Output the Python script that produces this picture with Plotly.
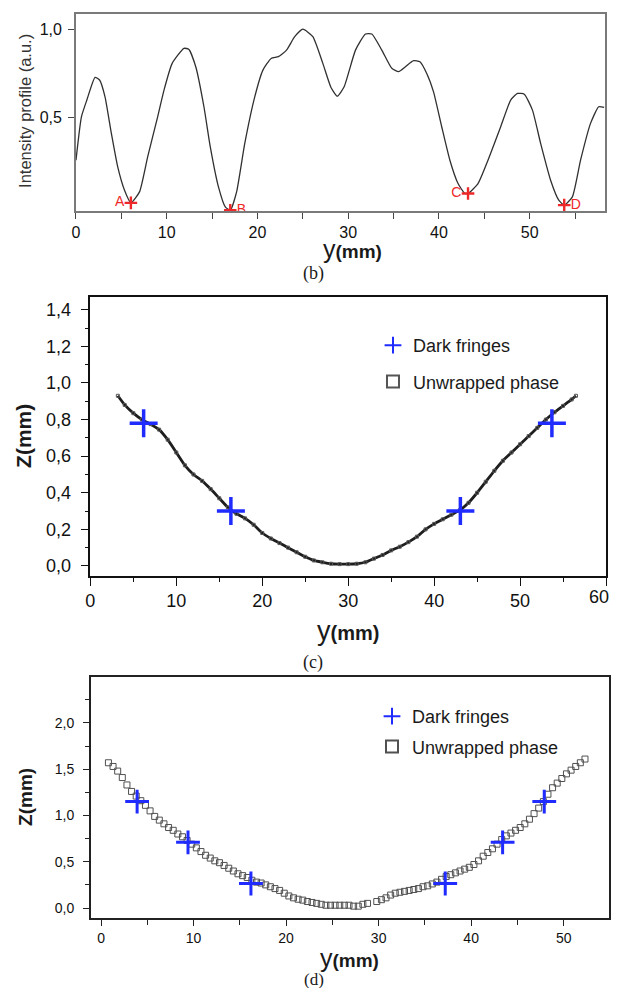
import plotly.graph_objects as go

# ---------------- data ----------------
# (b) intensity profile
b_y_mm = [0.0, 0.6, 1.2, 2.1, 2.6, 3.2, 3.9, 4.6, 5.35, 6.05, 7.0, 7.9, 9.0, 9.7, 10.6, 11.9, 12.45, 13.2,
          14.1, 14.8, 15.7, 16.45, 17.0, 17.7, 18.6, 19.7, 20.6, 21.5, 22.3, 23.2, 24.1, 25.0, 26.1, 27.2,
          28.1, 28.8, 29.55, 30.8, 31.9, 32.6, 33.7, 34.8, 35.55, 36.3, 37.2, 37.9, 38.65, 39.4, 40.3,
          41.2, 42.1, 42.8, 43.2, 44.3, 45.4, 46.8, 47.9, 48.65, 49.4, 50.3, 51.2, 52.3, 53.2, 53.8, 54.7,
          55.6, 56.7, 57.6, 58.2]
b_intensity = [0.26, 0.505, 0.60, 0.728, 0.713, 0.618, 0.411, 0.222, 0.09, 0.019, 0.081, 0.279, 0.505,
               0.656, 0.807, 0.892, 0.886, 0.788, 0.562, 0.335, 0.109, -0.004, -0.023, 0.081, 0.355, 0.618,
               0.769, 0.835, 0.845, 0.882, 0.958, 1.0, 0.958, 0.807, 0.671, 0.622, 0.675, 0.882, 0.973,
               0.973, 0.882, 0.779, 0.76, 0.788, 0.822, 0.816, 0.75, 0.646, 0.449, 0.26, 0.128, 0.075,
               0.072, 0.128, 0.26, 0.449, 0.60, 0.637, 0.633, 0.543, 0.355, 0.147, 0.034, 0.006, 0.053,
               0.26, 0.468, 0.562, 0.558]
b_min_labels = ["A", "B", "C", "D"]
b_min_y_mm = [6.05, 17.0, 43.2, 53.8]
b_min_intensity = [0.019, -0.023, 0.072, 0.006]

# (c) unwrapped phase and dark fringes
c_y_mm = [3.2, 4.0, 5.0, 6.0, 7.0, 8.0, 9.0, 10.0, 11.0, 12.0, 13.0, 14.0, 15.0, 16.0, 17.0, 18.0, 19.0,
          20.0, 21.0, 22.0, 23.0, 24.0, 25.0, 26.0, 27.0, 28.0, 29.0, 30.0, 31.0, 32.0, 33.0, 34.0, 35.0,
          36.0, 37.0, 38.0, 39.0, 40.0, 41.0, 42.0, 43.0, 44.0, 45.0, 46.0, 47.0, 48.0, 49.0, 50.0, 51.0,
          52.0, 53.0, 54.0, 55.0, 56.0, 56.5]
c_z_mm = [0.93, 0.88, 0.835, 0.80, 0.775, 0.745, 0.69, 0.62, 0.55, 0.50, 0.465, 0.42, 0.37, 0.32, 0.285,
          0.26, 0.225, 0.18, 0.15, 0.125, 0.10, 0.075, 0.05, 0.03, 0.02, 0.012, 0.01, 0.01, 0.012, 0.02,
          0.04, 0.06, 0.085, 0.105, 0.13, 0.16, 0.20, 0.23, 0.255, 0.28, 0.305, 0.345, 0.40, 0.46, 0.52,
          0.575, 0.62, 0.665, 0.71, 0.755, 0.80, 0.84, 0.875, 0.91, 0.93]
c_fringe_y_mm = [6.2, 16.35, 43.05, 53.7]
c_fringe_z_mm = [0.78, 0.30, 0.30, 0.78]
c_x_ticks = [0, 10, 20, 30, 40, 50, 60]

# (d) unwrapped phase and dark fringes
d_y_mm = [0.8, 1.3, 1.8, 2.3, 2.8, 3.3, 3.8, 4.3, 4.8, 5.3, 5.8, 6.3, 6.8, 7.3, 7.8, 8.3, 8.8, 9.3, 9.8,
          10.3, 10.8, 11.3, 11.8, 12.3, 12.8, 13.3, 13.8, 14.3, 14.8, 15.3, 15.8, 16.3, 16.8, 17.3, 17.8,
          18.3, 18.8, 19.3, 19.8, 20.3, 20.8, 21.3, 21.8, 22.3, 22.8, 23.3, 23.8, 24.3, 24.8, 25.3, 25.8,
          26.3, 26.8, 27.3, 27.8, 28.3, 28.8,
          29.8, 30.3, 30.8, 31.3, 31.8, 32.3, 32.8, 33.3, 33.8, 34.3, 34.8, 35.3, 35.8, 36.3, 36.8, 37.3,
          37.8, 38.3, 38.8, 39.3, 39.8, 40.3, 40.8, 41.3, 41.8, 42.3, 42.8, 43.3, 43.8, 44.3, 44.8, 45.3,
          45.8, 46.3, 46.8, 47.3, 47.8, 48.3, 48.8, 49.3, 49.8, 50.3, 50.8, 51.3, 51.8, 52.3]
d_z_mm = [1.57, 1.53, 1.48, 1.41, 1.33, 1.26, 1.21, 1.16, 1.11, 1.05, 0.99, 0.95, 0.91, 0.87, 0.84, 0.80,
          0.77, 0.73, 0.69, 0.65, 0.61, 0.57, 0.54, 0.51, 0.49, 0.46, 0.43, 0.40, 0.37, 0.35, 0.33, 0.30,
          0.28, 0.27, 0.25, 0.23, 0.21, 0.19, 0.16, 0.13, 0.11, 0.095, 0.085, 0.07, 0.06, 0.05, 0.04, 0.03,
          0.03, 0.03, 0.03, 0.03, 0.03, 0.02, 0.02, 0.04, 0.05,
          0.07, 0.09, 0.11, 0.14, 0.16, 0.17, 0.18, 0.19, 0.20, 0.21, 0.23, 0.24, 0.26, 0.28, 0.31, 0.34,
          0.36, 0.38, 0.40, 0.42, 0.44, 0.47, 0.51, 0.56, 0.60, 0.64, 0.69, 0.74, 0.78, 0.81, 0.84, 0.87,
          0.91, 0.96, 1.02, 1.08, 1.15, 1.23, 1.30, 1.35, 1.40, 1.45, 1.49, 1.53, 1.57, 1.61]
d_fringe_y_mm = [3.9, 9.4, 16.2, 37.2, 43.4, 47.9]
d_fringe_z_mm = [1.15, 0.71, 0.265, 0.265, 0.71, 1.15]

# ---------------- style ----------------
PAGE_W, PAGE_H = 620, 996
OFF = 8                      # default page margin around the plot div
W, H = PAGE_W - 2 * OFF, PAGE_H - 2 * OFF
SANS = "Liberation Sans, Arial, sans-serif"
NARROW = "Liberation Sans Narrow, Arial Narrow, Liberation Sans, sans-serif"
SERIF = "Liberation Serif, Times New Roman, serif"
RED = "#ee2828"
BLUE = "#1f2bff"


def fx(p):
    return (p - OFF) / W


def fy(p):
    return 1 - (p - OFF) / H


fig = go.Figure()

# (b)
fig.add_trace(go.Scatter(x=b_y_mm, y=b_intensity, mode="lines", xaxis="x", yaxis="y",
                         line=dict(color="#303030", width=1.3, shape="spline", smoothing=0.5),
                         showlegend=False, hoverinfo="skip"))
fig.add_trace(go.Scatter(x=b_min_y_mm, y=b_min_intensity, mode="markers+text", xaxis="x", yaxis="y",
                         text=b_min_labels,
                         textposition=["middle left", "middle right", "middle left", "middle right"],
                         textfont=dict(family=SANS, size=14, color=RED),
                         marker=dict(symbol="cross-thin", size=9, line=dict(color=RED, width=2.4)),
                         showlegend=False))

# (c)
fig.add_trace(go.Scatter(x=c_y_mm, y=c_z_mm, mode="lines", xaxis="x2", yaxis="y2",
                         line=dict(color="#1e1e1e", width=2.8, shape="spline", smoothing=0.6),
                         showlegend=False, hoverinfo="skip"))
fig.add_trace(go.Scatter(x=c_y_mm, y=c_z_mm, mode="markers", xaxis="x2", yaxis="y2",
                         name="Unwrapped phase", legend="legend", legendgroup="c2", legendrank=2,
                         marker=dict(symbol="square-open", size=3, color="#555555",
                                     line=dict(width=1, color="#555555"))))
fig.add_trace(go.Scatter(x=c_fringe_y_mm, y=c_fringe_z_mm, mode="markers", xaxis="x2", yaxis="y2",
                         name="Dark fringes", legend="legend", legendgroup="c1", legendrank=1,
                         marker=dict(symbol="cross-thin", size=20, color=BLUE,
                                     line=dict(width=3.5, color=BLUE))))

# (d)
fig.add_trace(go.Scatter(x=d_y_mm, y=d_z_mm, mode="markers", xaxis="x3", yaxis="y3",
                         name="Unwrapped phase", legend="legend2", legendgroup="d2", legendrank=2,
                         marker=dict(symbol="square-open", size=6, color="#505050",
                                     line=dict(width=1, color="#505050"))))
fig.add_trace(go.Scatter(x=d_fringe_y_mm, y=d_fringe_z_mm, mode="markers", xaxis="x3", yaxis="y3",
                         name="Dark fringes", legend="legend2", legendgroup="d1", legendrank=1,
                         marker=dict(symbol="cross-thin", size=17, color=BLUE,
                                     line=dict(width=3, color=BLUE))))

common = dict(showgrid=False, zeroline=False, showline=True, mirror=True, ticks="outside")

fig.update_layout(
    width=W, height=H, margin=dict(l=0, r=0, t=0, b=0),
    paper_bgcolor="white", plot_bgcolor="white",
    separators=", ",
    font=dict(family=SANS, color="#1a1a1a"),
    # (b)
    xaxis=dict(**common, domain=[fx(71.5), fx(605)], anchor="y", range=[0, 58.3],
               tick0=0, dtick=10, ticklen=6, tickwidth=1.2, tickcolor="#444",
               linecolor="#7a7a7a", linewidth=1.6,
               minor=dict(dtick=5, ticks="outside", ticklen=6, tickwidth=1.2, tickcolor="#444"),
               tickfont=dict(size=16, color="#111")),
    yaxis=dict(**common, domain=[fy(211), fy(14)], anchor="x", range=[-0.027, 1.086],
               tickvals=[0.5, 1.0], tickformat=".1f", ticklen=6, tickwidth=1.2, tickcolor="#444",
               linecolor="#7a7a7a", linewidth=1.6, tickfont=dict(size=16, color="#111"),
               ticklabelstandoff=3),
    # (c)  (the last label, "60", is written below as text so it stays inside the page)
    xaxis2=dict(**common, domain=[fx(86), fx(606)], anchor="y2", range=[0, 60],
                tickvals=c_x_ticks, ticktext=[str(v) for v in c_x_ticks[:-1]] + [""],
                ticklen=8, tickwidth=1.3, tickcolor="#111",
                linecolor="#111", linewidth=1.5,
                minor=dict(tickvals=[5, 15, 25, 35, 45, 55], ticks="outside", ticklen=4,
                           tickwidth=1.2, tickcolor="#111"),
                tickfont=dict(size=18, color="#111")),
    yaxis2=dict(**common, domain=[fy(576), fy(297)], anchor="x2", range=[-0.055, 1.47],
                tick0=0, dtick=0.2, tickformat=".1f", ticklen=8, tickwidth=1.3, tickcolor="#111",
                linecolor="#111", linewidth=1.5,
                minor=dict(dtick=0.1, ticks="outside", ticklen=4, tickwidth=1.2, tickcolor="#111"),
                tickfont=dict(size=18, color="#111"), ticklabelstandoff=6),
    # (d)
    xaxis3=dict(**common, domain=[fx(86.5), fx(609)], anchor="y3", range=[-1.1, 54.9],
                tick0=0, dtick=10, ticklen=6, tickwidth=1.2, tickcolor="#222",
                linecolor="#222", linewidth=1.5,
                minor=dict(dtick=5, ticks="outside", ticklen=5, tickwidth=1.2, tickcolor="#222"),
                tickfont=dict(size=14, color="#111")),
    yaxis3=dict(**common, domain=[fy(918), fy(677)], anchor="x3", range=[-0.108, 2.497],
                tick0=0, dtick=0.5, tickformat=".1f", ticklen=6, tickwidth=1.2, tickcolor="#222",
                linecolor="#222", linewidth=1.5,
                minor=dict(dtick=0.25, ticks="outside", ticklen=4, tickwidth=1.2, tickcolor="#222"),
                tickfont=dict(size=14, color="#111"), ticklabelstandoff=6),
    legend=dict(x=fx(371), y=fy(327), xanchor="left", yanchor="top", bgcolor="rgba(0,0,0,0)",
                font=dict(family=SANS, size=18, color="#1a1a1a"), tracegroupgap=10,
                itemsizing="constant", traceorder="grouped"),
    legend2=dict(x=fx(370), y=fy(698), xanchor="left", yanchor="top", bgcolor="rgba(0,0,0,0)",
                 font=dict(family=SANS, size=18, color="#1a1a1a"), tracegroupgap=4,
                 itemsizing="constant", traceorder="grouped"),
)


def ann(text, x, y, size, family=SANS, angle=0, color="#1a1a1a", xanchor="center"):
    fig.add_annotation(text=text, x=fx(x), y=fy(y), xref="paper", yref="paper", showarrow=False,
                       xanchor=xanchor, yanchor="middle", textangle=angle,
                       font=dict(family=family, size=size, color=color))


# last x tick label of (c), right-aligned to the page edge
ann(str(c_x_ticks[-1]), 611, 597, 18, color="#111", xanchor="right")

# axis titles and captions
ann("Intensity profile (a.u.)", 20, 111, 16.5, family=NARROW, angle=-90, color="#333")
ann("y<span style='font-size:19px'><b>(mm)</b></span>", 350, 249, 25)
ann("(b)", 311, 273, 18, family=SERIF)

ann("<b>Z(mm)</b>", 18, 436, 21, angle=-90)
ann("y<span style='font-size:20px'><b>(mm)</b></span>", 346, 631, 27)
ann("(c)", 310, 662, 18, family=SERIF)

ann("<b>Z(mm)</b>", 20, 797, 19, angle=-90)
ann("y<span style='font-size:19px'><b>(mm)</b></span>", 347, 958, 25)
ann("(d)", 312, 979, 17, family=SERIF)

fig.write_html("out.html")
